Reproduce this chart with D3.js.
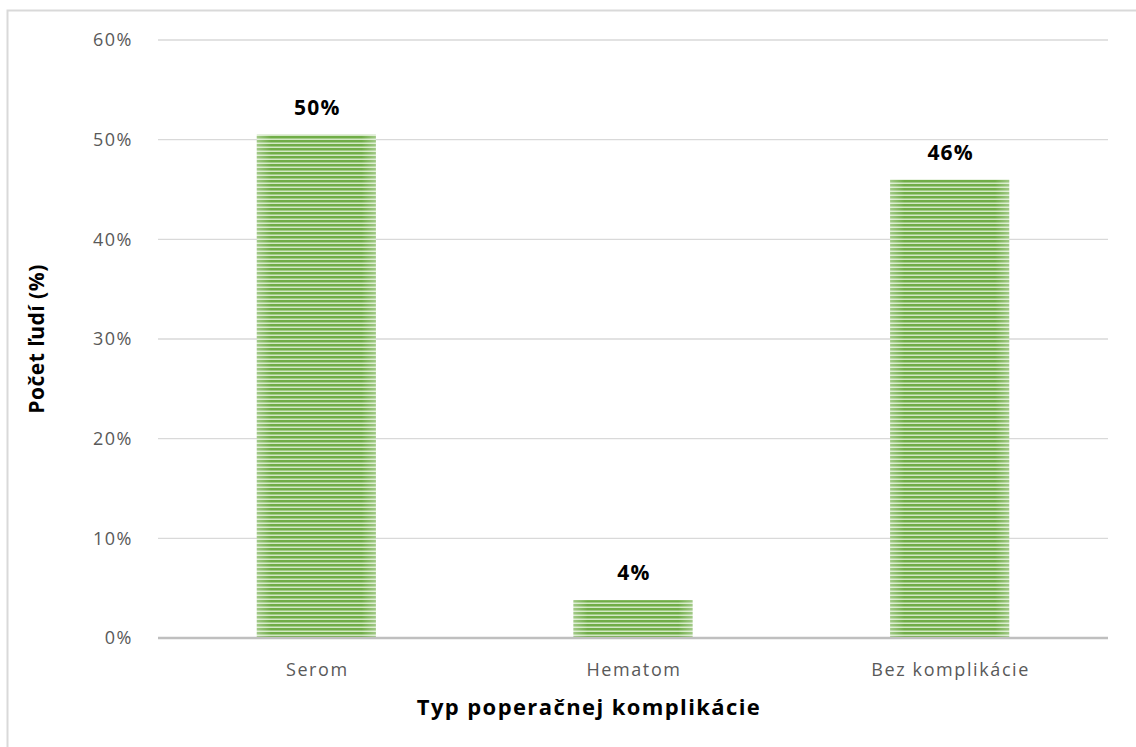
<!DOCTYPE html>
<html>
<head>
<meta charset="utf-8">
<script src="https://cdn.jsdelivr.net/npm/d3@7"></script>
<style>
body { margin: 0; background: #fff; }
text { font-family: "Open Sans", "Noto Sans", sans-serif; }
</style>
</head>
<body>
<script>
var categories = ["Serom", "Hematom", "Bez komplikácie"];
var values = [50.5, 3.8, 46];
var valueLabels = ["50%", "4%", "46%"];
var yTicks = [0, 10, 20, 30, 40, 50, 60];

var width = 1136, height = 747;
var plotLeft = 158, plotRight = 1108, plotTop = 40, plotBottom = 638;

var svg = d3.select("body").append("svg")
    .attr("width", width)
    .attr("height", height);

// frame
svg.append("rect")
    .attr("x", 7.5).attr("y", 10.5)
    .attr("width", 1140).attr("height", 760)
    .attr("fill", "#fff")
    .attr("stroke", "#d9d9d9")
    .attr("stroke-width", 2);

var defs = svg.append("defs");

// striped fill
var pat = defs.append("pattern")
    .attr("id", "stripes")
    .attr("patternUnits", "userSpaceOnUse")
    .attr("width", 8).attr("height", 4);
pat.append("rect").attr("width", 8).attr("height", 4).attr("fill", "#70ad47");
pat.append("rect").attr("y", 2.5).attr("width", 8).attr("height", 1.5).attr("fill", "#d2e8c4");

// lighter edges left/right
var grad = defs.append("linearGradient").attr("id", "edges");
grad.append("stop").attr("offset", "0%").attr("stop-color", "#fff").attr("stop-opacity", 0.35);
grad.append("stop").attr("offset", "12%").attr("stop-color", "#fff").attr("stop-opacity", 0);
grad.append("stop").attr("offset", "88%").attr("stop-color", "#fff").attr("stop-opacity", 0);
grad.append("stop").attr("offset", "100%").attr("stop-color", "#fff").attr("stop-opacity", 0.35);

var x = d3.scaleBand().domain(categories).range([plotLeft, plotRight]).padding(0);
var y = d3.scaleLinear().domain([0, 60]).range([plotBottom, plotTop]);
var barW = x.bandwidth() * 0.376;

// gridlines
svg.append("g").selectAll("line")
    .data(yTicks.filter(function(d){ return d > 0; }))
    .enter().append("line")
    .attr("x1", plotLeft).attr("x2", plotRight)
    .attr("y1", function(d){ return y(d); })
    .attr("y2", function(d){ return y(d); })
    .attr("stroke", "#d9d9d9")
    .attr("stroke-width", 1.3);

// y tick labels
svg.append("g").selectAll("text")
    .data(yTicks)
    .enter().append("text")
    .attr("x", 133)
    .attr("y", function(d){ return y(d); })
    .attr("dy", "0.35em")
    .attr("text-anchor", "end")
    .attr("fill", "#595959")
    .attr("font-size", 18)
    .attr("letter-spacing", 1.5)
    .text(function(d){ return d + "%"; });

// bars
var bars = svg.append("g").selectAll("g")
    .data(values)
    .enter().append("g");

bars.append("rect")
    .attr("x", function(d, i){ return x(categories[i]) + (x.bandwidth() - barW) / 2; })
    .attr("y", function(d){ return y(d); })
    .attr("width", barW)
    .attr("height", function(d){ return plotBottom - y(d); })
    .attr("fill", "url(#stripes)");

bars.append("rect")
    .attr("x", function(d, i){ return x(categories[i]) + (x.bandwidth() - barW) / 2; })
    .attr("y", function(d){ return y(d); })
    .attr("width", barW)
    .attr("height", function(d){ return plotBottom - y(d); })
    .attr("fill", "url(#edges)");

// value labels
bars.append("text")
    .attr("x", function(d, i){ return x(categories[i]) + x.bandwidth() / 2 + 1; })
    .attr("y", function(d){ return y(d) - 20; })
    .attr("text-anchor", "middle")
    .attr("font-size", 21)
    .attr("font-weight", "bold")
    .attr("letter-spacing", 1.2)
    .attr("fill", "#000")
    .text(function(d, i){ return valueLabels[i]; });

// baseline
svg.append("line")
    .attr("x1", plotLeft).attr("x2", plotRight)
    .attr("y1", plotBottom).attr("y2", plotBottom)
    .attr("stroke", "#bfbfbf")
    .attr("stroke-width", 2.5);

// category labels
svg.append("g").selectAll("text")
    .data(categories)
    .enter().append("text")
    .attr("x", function(d){ return x(d) + x.bandwidth() / 2 + 1; })
    .attr("y", 676)
    .attr("text-anchor", "middle")
    .attr("fill", "#595959")
    .attr("font-size", 18)
    .attr("letter-spacing", 1.6)
    .text(function(d){ return d; });

// axis titles
svg.append("text")
    .attr("x", 589).attr("y", 715)
    .attr("text-anchor", "middle")
    .attr("font-size", 22)
    .attr("font-weight", "bold")
    .attr("letter-spacing", 1.4)
    .attr("fill", "#000")
    .text("Typ poperačnej komplikácie");

svg.append("text")
    .attr("transform", "translate(44,339) rotate(-90)")
    .attr("text-anchor", "middle")
    .attr("font-size", 21)
    .attr("font-weight", "bold")
    .attr("letter-spacing", 0.5)
    .attr("fill", "#000")
    .text("Počet ľudí (%)");
</script>
</body>
</html>
